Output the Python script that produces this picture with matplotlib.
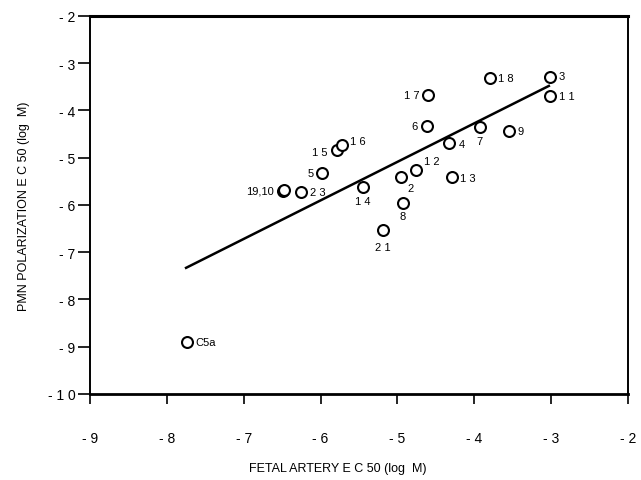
import matplotlib
matplotlib.use("Agg")
import matplotlib.pyplot as plt

# Data
labels = ["3", "1 1", "1 8", "1 7", "6", "4", "7", "9", "1 2", "2", "1 3", "8",
          "2 1", "1 4", "5", "1 5", "1 6", "19,10", "", "2 3", "C5a"]
fetal_ec50 = [-3.02, -3.02, -3.80, -4.60, -4.62, -4.33, -3.93, -3.55, -4.76, -4.95,
              -4.29, -4.93, -5.19, -5.45, -5.98, -5.79, -5.72, -6.49, -6.48, -6.25, -7.74]
pmn_ec50 = [-3.29, -3.69, -3.31, -3.67, -4.33, -4.69, -4.35, -4.43, -5.26, -5.41,
            -5.41, -5.96, -6.53, -5.62, -5.32, -4.83, -4.73, -5.70, -5.69, -5.72, -8.90]
# label offsets in pixels (dx, dy) and alignment
label_pos = [(9, 1, "left"), (9, 0, "left"), (8, 0, "left"), (-9, 0, "right"),
             (-9, 0, "right"), (10, -1, "left"), (0, -14, "center"), (9, 0, "left"),
             (8, 9, "left"), (6, -11, "left"), (8, -1, "left"), (0, -13, "center"),
             (0, -17, "center"), (0, -14, "center"), (-8, 0, "right"), (-9, -2, "right"),
             (8, 4, "left"), (-9, 0, "right"), (0, 0, "left"), (9, 0, "left"), (9, 0, "left")]

fit_x = [-7.75, -3.03]
fit_y = [-7.33, -3.48]

xticks = [-9, -8, -7, -6, -5, -4, -3, -2]
xticklabels = ["- 9", "- 8", "- 7", "- 6", "- 5", "- 4", "- 3", "- 2"]
yticks = [-10, -9, -8, -7, -6, -5, -4, -3, -2]
yticklabels = ["- 1 0", "- 9", "- 8", "- 7", "- 6", "- 5", "- 4", "- 3", "- 2"]

plt.rcParams['font.family'] = ['Liberation Sans', 'DejaVu Sans']

fig = plt.figure(figsize=(6.41, 4.81), dpi=100)
ax = fig.add_axes([90/641, 1 - 395/481, 538/641, 378/481])

ax.plot(fit_x, fit_y, color="black", lw=1.8, zorder=2)
ax.scatter(fetal_ec50, pmn_ec50, s=62, facecolors="white", edgecolors="black",
           linewidths=1.5, zorder=3)

for lab, x, y, (dx, dy, ha) in zip(labels, fetal_ec50, pmn_ec50, label_pos):
    if not lab:
        continue
    ax.annotate(lab, (x, y), xytext=(dx, dy), textcoords="offset pixels",
                ha=ha, va="center", fontsize=8, color="black")

ax.set_xlim(-9, -2)
ax.set_ylim(-10, -2)
ax.set_xticks(xticks)
ax.set_xticklabels(xticklabels)
ax.set_yticks(yticks)
ax.set_yticklabels(yticklabels)
ax.tick_params(axis="x", direction="out", length=7, width=1.2, pad=20, labelsize=10)
ax.tick_params(axis="y", direction="out", length=8.5, width=1.2, pad=2, labelsize=10)

for side, lw in [("top", 2.2), ("bottom", 2.0), ("left", 1.4), ("right", 1.4)]:
    ax.spines[side].set_linewidth(lw)

ax.set_xlabel("FETAL ARTERY E C 50 (log  M)", fontsize=9)
ax.xaxis.set_label_coords((338 - 90) / 538, -(463 - 395) / 378)
ax.set_ylabel("PMN POLARIZATION E C 50 (log  M)", fontsize=9)
ax.yaxis.set_label_coords(-(90 - 30) / 538, 0.5)

fig.savefig("out.png", dpi=100)
